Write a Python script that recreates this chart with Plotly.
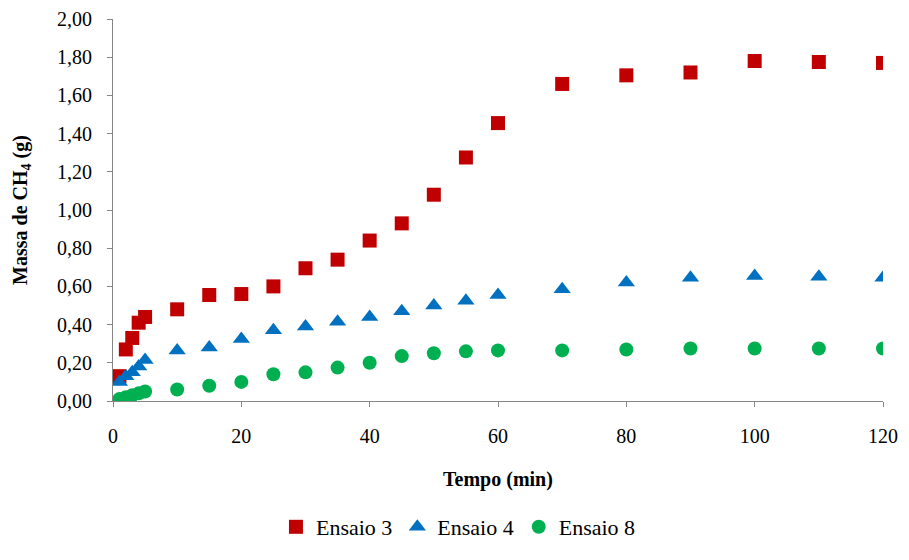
import plotly.graph_objects as go

tempo = [1, 2, 3, 4, 5, 10, 15, 20, 25, 30, 35, 40, 45, 50, 55, 60, 70, 80, 90, 100, 110, 120]
ensaio3 = [0.13, 0.27, 0.33, 0.41, 0.44, 0.48, 0.555, 0.56, 0.60, 0.695, 0.74, 0.84, 0.93, 1.08, 1.275, 1.455, 1.66, 1.705, 1.72, 1.78, 1.775, 1.77]
ensaio4 = [0.10, 0.13, 0.15, 0.18, 0.215, 0.265, 0.28, 0.325, 0.37, 0.39, 0.415, 0.44, 0.47, 0.50, 0.525, 0.555, 0.585, 0.62, 0.645, 0.655, 0.65, 0.645]
ensaio8 = [0.01, 0.02, 0.03, 0.04, 0.05, 0.06, 0.08, 0.10, 0.14, 0.15, 0.175, 0.20, 0.235, 0.25, 0.26, 0.265, 0.265, 0.27, 0.275, 0.275, 0.275, 0.275]
x_ticks = [0, 20, 40, 60, 80, 100, 120]
y_ticks = [0, 0.2, 0.4, 0.6, 0.8, 1.0, 1.2, 1.4, 1.6, 1.8, 2.0]

font = "Liberation Serif"
fig = go.Figure()
fig.add_trace(go.Scatter(x=tempo, y=ensaio3, mode="markers", name="Ensaio 3",
                         marker=dict(symbol="square", size=14, color="#C00000")))
fig.add_trace(go.Scatter(x=tempo, y=ensaio4, mode="markers", name="Ensaio 4",
                         marker=dict(symbol="triangle-up", size=15, color="#0070C0")))
fig.add_trace(go.Scatter(x=tempo, y=ensaio8, mode="markers", name="Ensaio 8",
                         marker=dict(symbol="circle", size=14, color="#00B050")))

fig.update_layout(
    width=892, height=540,
    margin=dict(l=105, r=17, t=11, b=147),
    paper_bgcolor="white", plot_bgcolor="white",
    separators=",.",
    font=dict(family=font, size=20, color="black"),
    showlegend=True,
    legend=dict(orientation="h", xref="container", yref="container",
                x=0.505, xanchor="center", y=0.0, yanchor="bottom",
                font=dict(family=font, size=22), itemwidth=30, tracegroupgap=0),
    xaxis=dict(range=[0, 120], tickvals=x_ticks, automargin=False, ticklabeloverflow="allow",
               showgrid=False, zeroline=False, showline=True, linecolor="#868686", linewidth=1,
               ticks="outside", ticklen=5, tickcolor="#868686", ticklabelstandoff=12,
               tickfont=dict(family=font, size=20),
               title=dict(text="<b>Tempo (min)</b>", font=dict(family=font, size=20), standoff=25)),
    yaxis=dict(range=[0, 2.0], tickvals=y_ticks, tickformat=".2f", automargin=False, ticklabeloverflow="allow",
               showgrid=False, zeroline=False, showline=True, linecolor="#868686", linewidth=1,
               ticks="outside", ticklen=5, tickcolor="#868686", ticklabelstandoff=11,
               tickfont=dict(family=font, size=20),
               title=dict(text="<b>Massa de CH<sub>4</sub> (g)</b>", font=dict(family=font, size=20), standoff=24)),
)
fig.write_html("out.html")
